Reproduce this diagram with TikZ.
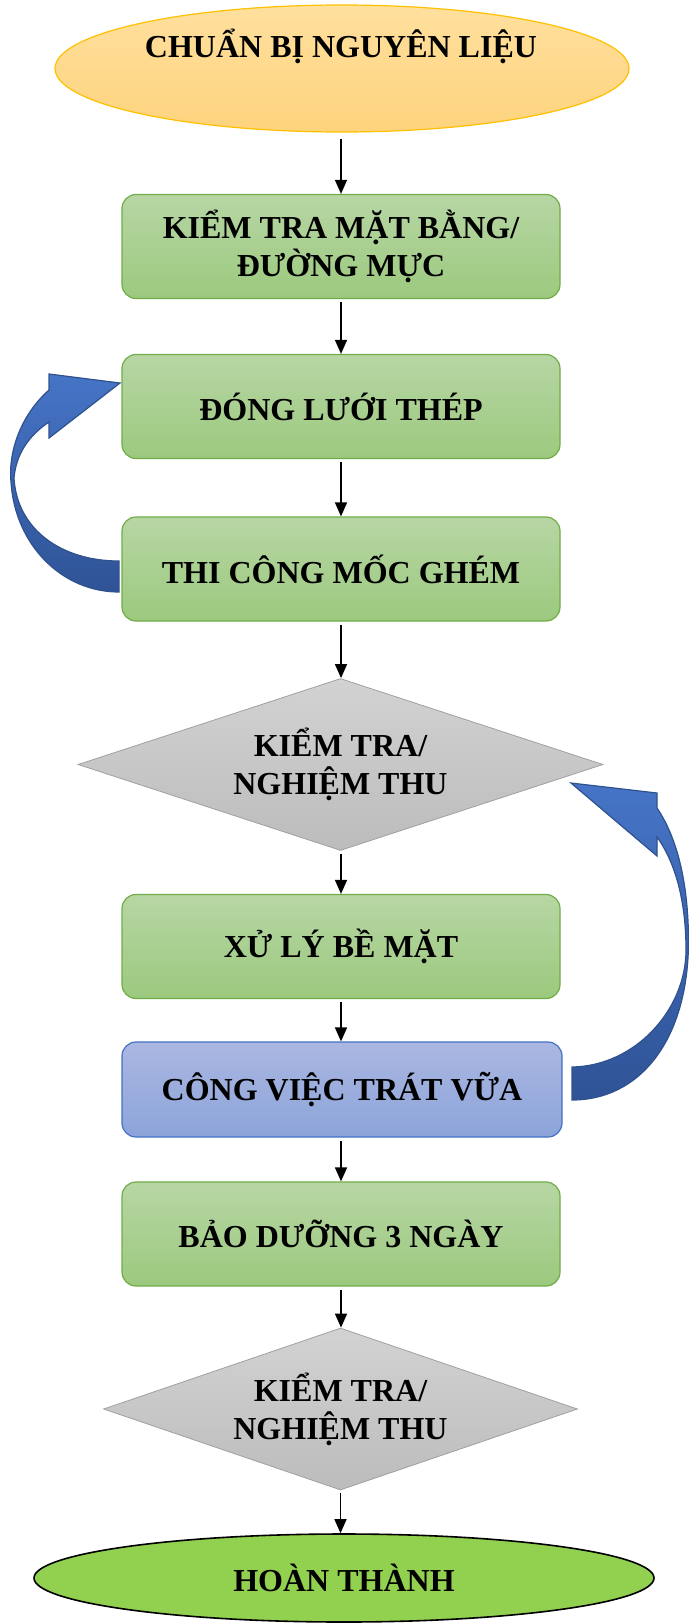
\documentclass[tikz,border=0pt]{standalone}
\usepackage{fontspec}
\setmainfont{Liberation Serif}
\usetikzlibrary{shapes.geometric,arrows.meta,calc}
\definecolor{greentop}{RGB}{183,214,164}
\definecolor{greenbot}{RGB}{156,201,126}
\definecolor{greenline}{RGB}{112,173,71}
\definecolor{bluetop}{RGB}{171,183,225}
\definecolor{bluebot}{RGB}{140,164,218}
\definecolor{blueline}{RGB}{68,114,196}
\definecolor{graytop}{RGB}{210,210,210}
\definecolor{graybot}{RGB}{188,188,188}
\definecolor{grayline}{RGB}{160,160,160}
\definecolor{goldtop}{RGB}{255,224,158}
\definecolor{goldbot}{RGB}{254,211,125}
\definecolor{goldline}{RGB}{255,192,0}
\definecolor{endgreen}{RGB}{146,208,80}
\definecolor{arrowtop}{RGB}{70,116,198}
\definecolor{arrowbot}{RGB}{47,83,150}
\definecolor{arrowline}{RGB}{47,82,143}
\begin{document}
\begin{tikzpicture}[x=0.5pt,y=-0.5pt,
  every node/.style={font=\bfseries\fontsize{16}{19}\selectfont, align=center, inner sep=0pt},
  gbox/.style={rectangle, rounded corners=7pt, draw=greenline, line width=0.6pt,
    top color=greentop, bottom color=greenbot, minimum width=219pt, minimum height=52pt},
  bbox/.style={rectangle, rounded corners=7pt, draw=blueline, line width=0.6pt,
    top color=bluetop, bottom color=bluebot, minimum width=220pt, minimum height=47.5pt},
  check/.style={diamond, draw=grayline, line width=0.4pt, top color=graytop, bottom color=graybot},
  flow/.style={draw=black, line width=0.75pt, -{Triangle[length=7pt,width=6pt]}, shorten <=1.5pt},
  loopar/.style={draw=arrowline, line width=0.6pt, top color=arrowtop, bottom color=arrowbot}
]
\useasboundingbox (0,0) rectangle (689,1623);

\node[ellipse, draw=goldline, line width=0.6pt, top color=goldtop, bottom color=goldbot,
  minimum width=287pt, minimum height=63.5pt] (start) at (342,68.5) {};
\node (starttext) at (341,46) {CHUẨN BỊ NGUYÊN LIỆU};

\node[gbox] (b1) at (341,246.5) {KIỂM TRA MẶT BẰNG/\\ĐƯỜNG MỰC};
\node[gbox] (b2) at (341,406.5) {ĐÓNG LƯỚI THÉP};
\node[gbox] (b3) at (341,569) {THI CÔNG MỐC GHÉM};
\node[check, aspect=3.05, minimum width=262.5pt, minimum height=86pt] (d1) at (340.5,764.5) {KIỂM TRA/\\NGHIỆM THU};
\node[gbox] (b4) at (341,946.5) {XỬ LÝ BỀ MẶT};
\node[bbox] (b5) at (342,1089.5) {CÔNG VIỆC TRÁT VỮA};
\node[gbox] (b6) at (341,1234) {BẢO DƯỠNG 3 NGÀY};
\node[check, aspect=2.93, minimum width=237pt, minimum height=81pt] (d2) at (340.5,1409) {KIỂM TRA/\\NGHIỆM THU};
\node[ellipse, draw=black, line width=0.8pt, fill=endgreen,
  minimum width=310pt, minimum height=44pt] (end) at (344,1578) {HOÀN THÀNH};

\draw[flow, shorten <=3pt] (start.south -| b1.north) -- (b1.north);
\draw[flow] (b1.south) -- (b2.north);
\draw[flow] (b2.south) -- (b3.north);
\draw[flow] (b3.south) -- (b3.south |- d1.north);
\draw[flow] (b4.north |- d1.south) -- (b4.north);
\draw[flow] (b4.south) -- (b4.south |- b5.north);
\draw[flow] (b6.north |- b5.south) -- (b6.north);
\draw[flow] (b6.south) -- (b6.south |- d2.north);
\draw[flow] (d2.south) -- (d2.south |- end.north);

% curved return arrow: THI CONG MOC GHEM -> DONG LUOI THEP
\path[loopar] (120,383) -- (49,374) -- (49,390)
  .. controls (22,414) and (8,450) .. (11,482)
  .. controls (15,545) and (62,592) .. (119,592)
  -- (119,561)
  .. controls (62,561) and (17,530) .. (14,478)
  .. controls (16,455) and (28,436) .. (49,422)
  -- (49,438) -- cycle;

% curved return arrow: CONG VIEC TRAT VUA -> KIEM TRA/NGHIEM THU
\path[loopar] (571,783) -- (657,793) -- (657,808)
  .. controls (676,836) and (688.5,880) .. (688.5,942)
  .. controls (688,1040) and (640,1100) .. (572,1100)
  -- (572,1067)
  .. controls (635,1066) and (686,1010) .. (686,950)
  .. controls (686,900) and (675,862) .. (657,837)
  -- (657,856) -- cycle;
\end{tikzpicture}
\end{document}
